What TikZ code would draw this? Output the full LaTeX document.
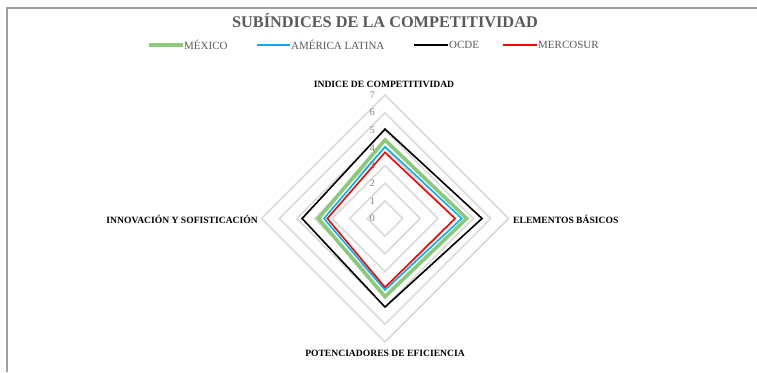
\documentclass[tikz,border=0pt]{standalone}
\usepackage{fontspec}
\setmainfont{Liberation Serif}
\definecolor{mexgreen}{RGB}{137,201,120}
\definecolor{alblue}{RGB}{0,176,240}
\definecolor{gridgray}{RGB}{217,217,217}
\definecolor{textgray}{RGB}{89,89,89}
\definecolor{tickgray}{RGB}{128,128,128}
\definecolor{framegray}{RGB}{160,160,160}
\begin{document}
\begin{tikzpicture}[x=1pt,y=1pt,
        gridline/.style={gridgray,line width=1.6pt},
        mexico/.style={mexgreen,line width=3.6pt},
        latina/.style={alblue,line width=1.6pt},
        ocde/.style={black,line width=1.6pt},
        mercosur/.style={red,line width=1.6pt},
        axislabel/.style={font=\fontsize{9.6}{10}\selectfont\bfseries,inner sep=1pt},
        ticklabel/.style={font=\fontsize{10}{11}\selectfont,text=tickgray,inner sep=1pt,anchor=east},
        legendlabel/.style={font=\fontsize{11}{12}\selectfont,text=textgray,inner sep=1pt,anchor=west}]
        \useasboundingbox (0,0) rectangle (757,-372);
        \draw [framegray,line width=2pt] (757,-8) -- (7,-8) -- (7,-372);
        \node [font=\fontsize{16.3}{18}\selectfont\bfseries,text=textgray](title) at (385,-21) {SUBÍNDICES DE LA COMPETITIVIDAD};
        % legend
        \node [legendlabel](mexico) at (183,-45) {MÉXICO};
        \node [legendlabel](latina) at (290,-45) {AMÉRICA LATINA};
        \node [legendlabel](ocde) at (448,-45) {OCDE};
        \node [legendlabel](mercosur) at (537,-45) {MERCOSUR};
        \coordinate (lmexico) at (149,-45);\coordinate (llatina) at (257,-45);
        \coordinate (locde) at (414,-45);\coordinate (lmercosur) at (503,-45);
        \draw [mexico](lmexico) -- (mexico.west);\draw [latina](llatina) -- (latina.west);
        \draw [ocde](locde) -- (ocde.west);\draw [mercosur](lmercosur) -- (mercosur.west);
        % radar
        \begin{scope}[shift={(385,-218.5)},x=17.64pt,y=17.64pt]
            \draw [gridline] (0,1) -- (1,0) -- (0,-1) -- (-1,0) -- cycle;
            \draw [gridline] (0,2) -- (2,0) -- (0,-2) -- (-2,0) -- cycle;
            \draw [gridline] (0,3) -- (3,0) -- (0,-3) -- (-3,0) -- cycle;
            \draw [gridline] (0,4) -- (4,0) -- (0,-4) -- (-4,0) -- cycle;
            \draw [gridline] (0,5) -- (5,0) -- (0,-5) -- (-5,0) -- cycle;
            \draw [gridline] (0,6) -- (6,0) -- (0,-6) -- (-6,0) -- cycle;
            \draw [gridline] (0,7) -- (7,0) -- (0,-7) -- (-7,0) -- cycle;
            \node [ticklabel](t0) at (-0.5,0) {0};\node [ticklabel](t1) at (-0.5,1) {1};
            \node [ticklabel](t2) at (-0.5,2) {2};\node [ticklabel](t3) at (-0.5,3) {3};
            \node [ticklabel](t4) at (-0.5,4) {4};\node [ticklabel](t5) at (-0.5,5) {5};
            \node [ticklabel](t6) at (-0.5,6) {6};\node [ticklabel](t7) at (-0.5,7) {7};
            \draw [mexico,line join=miter] (0,4.45) -- (4.63,0) -- (0,-4.43) -- (-3.78,0) -- cycle;
            \draw [latina,line join=miter] (0,4.07) -- (4.35,0) -- (0,-4.05) -- (-3.46,0) -- cycle;
            \draw [ocde,line join=miter] (0,5.07) -- (5.5,0) -- (0,-5.02) -- (-4.7,0) -- cycle;
            \draw [mercosur,line join=miter] (0,3.75) -- (3.97,0) -- (0,-3.9) -- (-3.27,0) -- cycle;
        \end{scope}
        \node [axislabel](indice) at (384,-84) {INDICE DE COMPETITIVIDAD};
        \node [axislabel,anchor=west](basicos) at (512,-219) {ELEMENTOS BÁSICOS};
        \node [axislabel](potenciadores) at (385,-353) {POTENCIADORES DE EFICIENCIA};
        \node [axislabel,anchor=east](innovacion) at (259,-219) {INNOVACIÓN Y SOFISTICACIÓN};
\end{tikzpicture}
\end{document}
